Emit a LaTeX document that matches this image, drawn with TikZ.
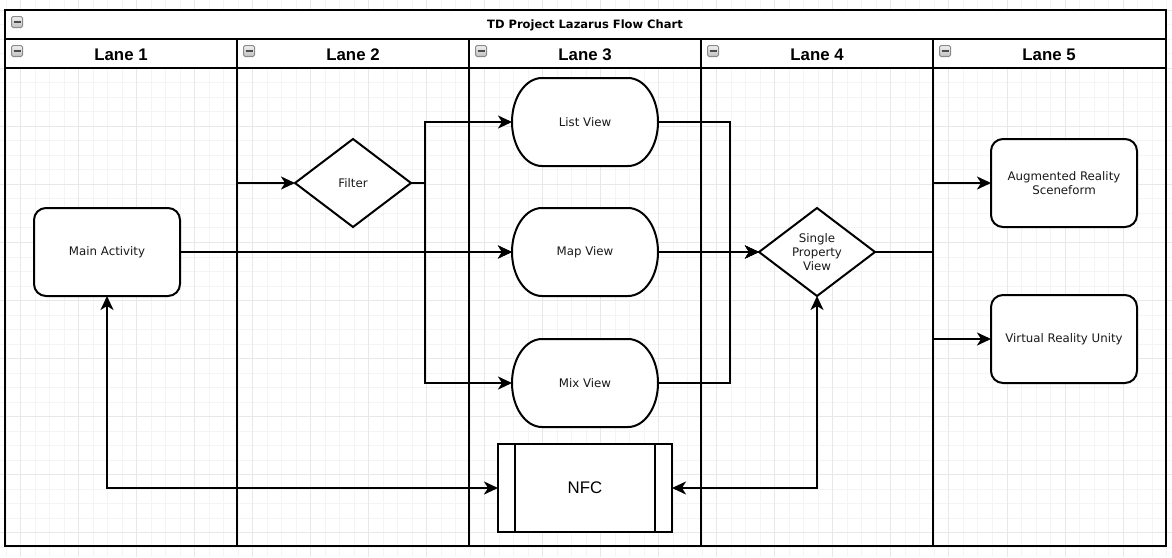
\documentclass[tikz,border=0pt]{standalone}
\usepackage{fontspec}
\setmainfont{DejaVu Sans}
\newfontfamily\lsans{Liberation Sans}
\usetikzlibrary{arrows.meta,shapes.geometric,calc}
\definecolor{gridminor}{HTML}{F4F4F4}
\definecolor{gridmajor}{HTML}{E8E8E8}
\definecolor{iconfill}{HTML}{BDBDBD}
\definecolor{iconedge}{HTML}{8A8A8A}
\tikzset{
  lw/.style={line width=2pt},
  connector/.style={lw, line join=miter, -{Stealth[length=14pt,width=13pt,inset=4pt]}},
  biconnector/.style={lw, line join=miter, {Stealth[length=14pt,width=13pt,inset=4pt]}-{Stealth[length=14pt,width=13pt,inset=4pt]}},
  bodytext/.style={font=\fontsize{11.8}{14}\selectfont, align=center, text=black!90, outer sep=0pt},
  roundbox/.style={bodytext, draw, lw, fill=white, rounded corners=12pt, minimum width=146pt, minimum height=88pt, inner sep=0pt},
  stadiumbox/.style={bodytext, minimum width=146pt, minimum height=88pt, inner sep=0pt},
  decision/.style={bodytext, draw, lw, fill=white, diamond, minimum width=116pt, minimum height=88pt, inner sep=0pt, shape aspect=1.32},
  processbox/.style={draw, lw, fill=white, outer sep=0pt, minimum width=174pt, minimum height=88pt, inner sep=0pt, font=\lsans\fontsize{16.8}{18}\selectfont},
  lanelabel/.style={font=\lsans\bfseries\fontsize{16.8}{18}\selectfont},
  titlelabel/.style={font=\bfseries\fontsize{11.5}{13}\selectfont},
  collapseicon/.style={draw=iconedge, line width=1pt, top color=gray!10, bottom color=iconfill, rounded corners=1.5pt, minimum width=11pt, minimum height=11pt, inner sep=0pt,
    path picture={\draw[line width=2pt, black!70] ([xshift=-3.5pt]path picture bounding box.center) -- ([xshift=3.5pt]path picture bounding box.center);}},
}
\newcommand\stadiumoutline[1]{%
  \filldraw[lw, fill=white] (#1) ++(-43,-44) -- ++(86,0)
    arc[start angle=-90, end angle=90, x radius=30, y radius=44] -- ++(-86,0)
    arc[start angle=90, end angle=270, x radius=30, y radius=44] -- cycle;}
\begin{document}
\begin{tikzpicture}[x=1pt, y=-1pt]
\useasboundingbox (0,0) rectangle (1172,557);
\clip (0,0) rectangle (1172,557);
\fill[white] (0,0) rectangle (1172,557);
% background grid
\foreach \k in {-1,...,79} \draw[gridminor, line width=1pt] ({round(20.1+14.506*\k)+0.5},0) -- ++(0,557);
\foreach \k in {-1,...,38} \draw[gridminor, line width=1pt] (0,{round(9.9+14.506*\k)+0.5}) -- ++(1172,0);
\foreach \k in {0,...,20} \draw[gridmajor, line width=1pt] ({round(20.1+58.025*\k)+0.5},0) -- ++(0,557);
\foreach \k in {0,...,10} \draw[gridmajor, line width=1pt] (0,{round(9.9+58.025*\k)+0.5}) -- ++(1172,0);
% pool and lanes
\fill[white] (5,10) rectangle (1166,68);
\draw[lw] (5,10) rectangle (1166,546);
\draw[lw] (5,39) -- (1166,39);
\draw[lw] (5,68) -- (1166,68);
\foreach \x in {237,469,701,933} \draw[lw] (\x,39) -- (\x,546);
\node[titlelabel] (title) at (585,25) {TD Project Lazarus Flow Chart};
\node[lanelabel] (lane1) at (121,54.5) {Lane 1};
\node[lanelabel] (lane2) at (353,54.5) {Lane 2};
\node[lanelabel] (lane3) at (585,54.5) {Lane 3};
\node[lanelabel] (lane4) at (817,54.5) {Lane 4};
\node[lanelabel] (lane5) at (1049,54.5) {Lane 5};
\node[collapseicon] (icon0) at (17,22) {};
\node[collapseicon] (icon1) at (17,51) {};
\node[collapseicon] (icon2) at (249,51) {};
\node[collapseicon] (icon3) at (481,51) {};
\node[collapseicon] (icon4) at (713,51) {};
\node[collapseicon] (icon5) at (945,51) {};
% shapes
\node[roundbox] (main) at (107,252) {Main Activity};
\node[decision] (filter) at (353,183) {Filter};
\stadiumoutline{585,122}
\node[stadiumbox] (list) at (585,122) {List View};
\stadiumoutline{585,252}
\node[stadiumbox] (map) at (585,252) {Map View};
\stadiumoutline{585,383}
\node[stadiumbox] (mix) at (585,383) {Mix View};
\node[processbox] (nfc) at (585,488) {NFC};
\draw[lw] ([xshift=17pt]nfc.north west) -- ([xshift=17pt]nfc.south west);
\draw[lw] ([xshift=-17pt]nfc.north east) -- ([xshift=-17pt]nfc.south east);
\node[decision] (spv) at (817,252) {Single\\Property\\View};
\node[roundbox] (ar) at (1064,183) {Augmented Reality\\Sceneform};
\node[roundbox] (vr) at (1064,339) {Virtual Reality Unity};
% connectors
\draw[connector] (main.east) -- (map.west);
\draw[connector] (main.east) -- ++(57,0) |- (filter.west);
\draw[connector] (filter.east) -- ++(14,0) |- (list.west);
\draw[connector] (filter.east) -- ++(14,0) |- (map.west);
\draw[connector] (filter.east) -- ++(14,0) |- (mix.west);
\draw[connector] (list.east) -- ++(72,0) |- (spv.west);
\draw[connector] (map.east) -- (spv.west);
\draw[connector] (mix.east) -- ++(72,0) |- (spv.west);
\draw[connector] (spv.east) -- ++(58,0) |- (ar.west);
\draw[connector] (spv.east) -- ++(58,0) |- (vr.west);
\draw[biconnector] (main.south) |- (nfc.west);
\draw[biconnector] (spv.south) |- (nfc.east);
\end{tikzpicture}
\end{document}
